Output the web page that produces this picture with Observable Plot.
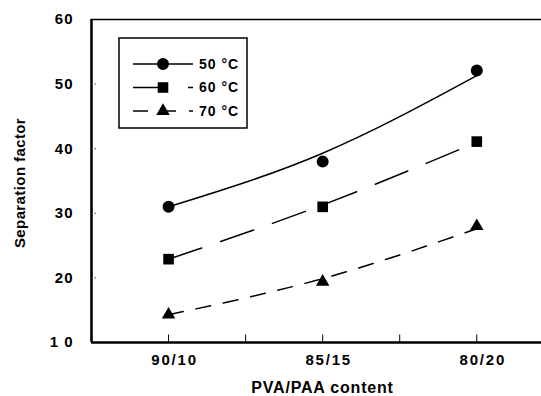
<!DOCTYPE html>
<html><head><meta charset="utf-8">
<script src="https://cdn.jsdelivr.net/npm/d3@7"></script>
<script src="https://cdn.jsdelivr.net/npm/@observablehq/plot@0.6"></script>
<style>body{margin:0;background:#fff}</style>
</head><body><div id="chart"></div>
<script>
// ---- data ----
const categories = ["90/10", "85/15", "80/20"];
const seriesNames = ["50 \u00B0C", "60 \u00B0C", "70 \u00B0C"];
const sep50 = [31, 38, 52.1];
const sep60 = [22.9, 31, 41.1];
const sep70 = [14.3, 19.4, 28];
// fitted trend curves as drawn in the reference (read at each category)
const fit50 = [31, 39.3, 51.3];
const fit60 = [22.9, 31.3, 41];
const fit70 = [14.3, 19.9, 27.6];
const yTicks = [10, 20, 30, 40, 50, 60];
const yTickLabels = ["1 0", "20", "30", "40", "50", "60"];
const xTickPositions = [1, 1.5, 2, 2.5, 3];
const xTitle = "PVA/PAA content";
const yTitle = "Separation factor";

const font = "'Liberation Sans', Arial, Helvetica, sans-serif";
const toRows = (arr) => arr.map((v, i) => ({x: i + 1, v}));

const seriesStyles = [
  {vals: sep50, fit: fit50, dash: null, plotSym: "circle", r: 6, d3sym: d3.symbolCircle, size: 113},
  {vals: sep60, fit: fit60, dash: "35,20", plotSym: "square", r: 6, d3sym: d3.symbolSquare, size: 112},
  {vals: sep70, fit: fit70, dash: "15,13", plotSym: "triangle", r: 5, d3sym: d3.symbolTriangle, size: 80}
];

const tickUp = {draw(ctx) { ctx.moveTo(0, 0); ctx.lineTo(0, -8); }};
const tickRight = {draw(ctx) { ctx.moveTo(0, 0); ctx.lineTo(6, 0); }};

const marks = [];
// frame pieces
marks.push(Plot.ruleY([60], {stroke: "black", strokeWidth: 1.6}));
marks.push(Plot.ruleY([10], {stroke: "black", strokeWidth: 2.6}));
marks.push(Plot.ruleX([0.5], {stroke: "black", strokeWidth: 2.6}));
// inward ticks
marks.push(Plot.dot(xTickPositions, {x: d => d, frameAnchor: "bottom", symbol: tickUp, stroke: "black", strokeWidth: 1, fill: "none"}));
marks.push(Plot.dot(yTicks.slice(1, -1), {y: d => d, frameAnchor: "left", symbol: tickRight, stroke: "#444", strokeWidth: 1, strokeDasharray: "1.5,1.5", fill: "none"}));
// axes text
marks.push(Plot.axisY({ticks: yTicks, tickSize: 0, tickPadding: 18, tickFormat: d => yTickLabels[yTicks.indexOf(d)], fontSize: 15, fontWeight: "bold", fontFamily: font, label: null}));
marks.push(Plot.axisX({ticks: [1, 2, 3], tickSize: 0, tickPadding: 12, tickFormat: d => categories[d - 1], fontSize: 15, fontWeight: "bold", fontFamily: font, dx: 6, label: null}));
marks.push(Plot.text([yTitle], {text: d => d, frameAnchor: "left", textAnchor: "middle", lineAnchor: "middle", dx: -71, dy: 2, rotate: -90, fontSize: 15, fontWeight: "bold", fontFamily: font}));
marks.push(Plot.text([xTitle], {text: d => d, frameAnchor: "bottom", textAnchor: "middle", lineAnchor: "middle", dx: 6, dy: 45, fontSize: 16, fontWeight: "bold", fontFamily: font}));
// series
for (const s of seriesStyles) {
  marks.push(Plot.line(toRows(s.fit), {x: "x", y: "v", curve: "natural", stroke: "black", strokeWidth: 1.5, strokeDasharray: s.dash}));
  marks.push(Plot.dot(toRows(s.vals), {x: "x", y: "v", symbol: s.plotSym, r: s.r, fill: "black", stroke: "none"}));
}

const chart = Plot.plot({
  width: 541, height: 396,
  marginLeft: 91, marginRight: 0, marginTop: 19, marginBottom: 54,
  x: {type: "linear", domain: [0.5, 3.42], axis: null},
  y: {domain: [10, 60], axis: null},
  style: {fontFamily: font, background: "white", color: "black"},
  marks
});

// letter spacing on the texts (match the wide scanned type)
const svg = d3.select(chart);
svg.selectAll("g[aria-label='y-axis tick label'] text").style("letter-spacing", "1px");
svg.selectAll("g[aria-label='x-axis tick label'] text").style("letter-spacing", "1.8px");
svg.selectAll("g[aria-label='text'] text").each(function() {
  const t = d3.select(this);
  t.style("letter-spacing", t.text() === xTitle ? "0.8px" : "0.4px");
});

// legend box inside the plot
const lg = svg.append("g");
lg.append("rect").attr("x", 119).attr("y", 38).attr("width", 128).attr("height", 90)
  .attr("fill", "white").attr("stroke", "black").attr("stroke-width", 1.5);
seriesStyles.forEach((s, k) => {
  const y = 64 + k * 23.5;
  lg.append("line").attr("x1", 133).attr("x2", 193).attr("y1", y).attr("y2", y)
    .attr("stroke", "black").attr("stroke-width", 1.5).attr("stroke-dasharray", s.dash);
  lg.append("path").attr("transform", `translate(163,${y})`).attr("d", d3.symbol(s.d3sym, s.size)()).attr("fill", "black");
  lg.append("text").attr("x", 199).attr("y", y).attr("dy", "0.35em").attr("text-anchor", "start")
    .text(seriesNames[k])
    .style("font-family", font).style("font-size", "14px").style("font-weight", "bold")
    .style("letter-spacing", "1px").attr("fill", "black");
});

document.getElementById("chart").append(chart);
</script>
</body></html>
